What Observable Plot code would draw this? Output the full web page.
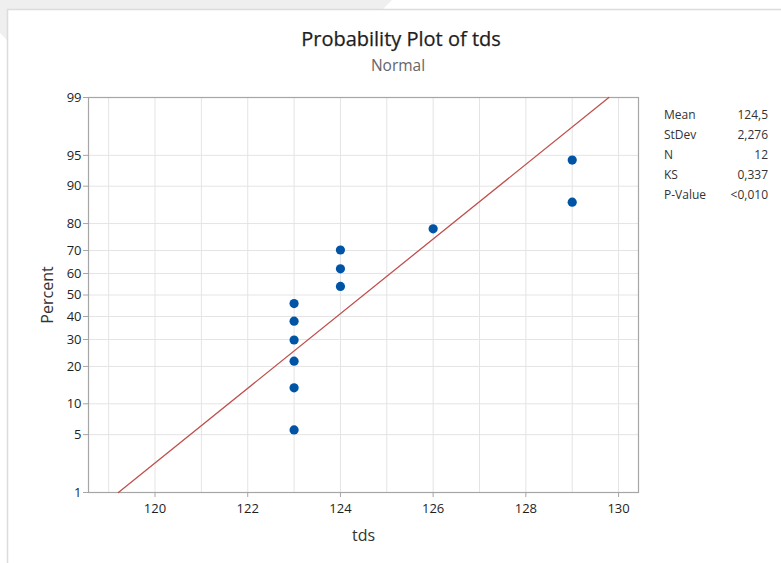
<!DOCTYPE html>
<html>
<head>
<meta charset="utf-8">
<script src="https://cdn.jsdelivr.net/npm/d3@7"></script>
<script src="https://cdn.jsdelivr.net/npm/@observablehq/plot@0.6"></script>
<style>
  html, body { margin: 0; padding: 0; background: #fff; }
  #page { position: relative; width: 781px; height: 563px; overflow: hidden; font-family: "Open Sans", "Noto Sans", sans-serif; }
  #bg { position: absolute; left: 0; top: 0; width: 781px; height: 563px; }
  #header { position: absolute; left: 0; top: 0; width: 781px; height: 80px; text-align: center; }
  #title { position: absolute; left: 0; width: 802px; top: 25px; font-size: 20px; color: #1e1e1e; font-weight: 500; -webkit-text-stroke: 0.25px #1e1e1e; }
  #subtitle { position: absolute; left: 0; width: 796px; top: 54px; font-size: 15.5px; color: #666; }
  #chart { position: absolute; left: 0; top: 80px; }
  #stats { position: absolute; left: 664px; top: 106px; width: 104px; font-size: 12px; color: #333; }
  #stats .row { display: flex; justify-content: space-between; height: 20px; line-height: 18px; }
</style>
</head>
<body>
<div id="page">
  <svg id="bg" width="781" height="563">
    <polygon points="0,0 392,0 383,9 7,9 7,40 0,33" fill="#efefef"></polygon>
    <line x1="7.5" y1="9" x2="7.5" y2="563" stroke="#dcdcdc" stroke-width="1.5"></line>
    <line x1="7" y1="9.5" x2="781" y2="9.5" stroke="#dcdcdc" stroke-width="1.5"></line>
  </svg>
  <div id="header">
    <div id="title">Probability Plot of tds</div>
    <div id="subtitle">Normal</div>
  </div>
  <div id="chart"></div>
  <div id="stats"></div>
</div>
<script>
// ---- data ----
const tdsValues = [123, 123, 123, 123, 123, 123, 124, 124, 124, 126, 129, 129];
const percentValues = [5.6, 13.7, 21.8, 29.8, 37.9, 46.0, 54.0, 62.1, 70.2, 78.2, 86.3, 94.4];
const fitX = [119.21, 129.79];
const fitPercent = [1, 99];
const yTickPercents = [1, 5, 10, 20, 30, 40, 50, 60, 70, 80, 90, 95, 99];
const xTickValues = [120, 122, 124, 126, 128, 130];
const xGridValues = [119, 120, 121, 122, 123, 124, 125, 126, 127, 128, 129, 130];
const statLabels = ["Mean", "StDev", "N", "KS", "P-Value"];
const statValues = ["124,5", "2,276", "12", "0,337", "<0,010"];

// inverse standard normal CDF (Acklam)
function probit(p) {
  const a = [-3.969683028665376e+01, 2.209460984245205e+02, -2.759285104469687e+02, 1.383577518672690e+02, -3.066479806614716e+01, 2.506628277459239e+00];
  const b = [-5.447609879822406e+01, 1.615858368580409e+02, -1.556989798598866e+02, 6.680131188771972e+01, -1.328068155288572e+01];
  const c = [-7.784894002430293e-03, -3.223964580411365e-01, -2.400758277161838e+00, -2.549732539343734e+00, 4.374664141464968e+00, 2.938163982698783e+00];
  const d = [7.784695709041462e-03, 3.224671290700398e-01, 2.445134137142996e+00, 3.754408661907416e+00];
  const pl = 0.02425, ph = 1 - pl;
  let q, r;
  if (p < pl) {
    q = Math.sqrt(-2 * Math.log(p));
    return (((((c[0]*q+c[1])*q+c[2])*q+c[3])*q+c[4])*q+c[5]) / ((((d[0]*q+d[1])*q+d[2])*q+d[3])*q+1);
  } else if (p <= ph) {
    q = p - 0.5; r = q*q;
    return (((((a[0]*r+a[1])*r+a[2])*r+a[3])*r+a[4])*r+a[5])*q / (((((b[0]*r+b[1])*r+b[2])*r+b[3])*r+b[4])*r+1);
  } else {
    q = Math.sqrt(-2 * Math.log(1 - p));
    return -(((((c[0]*q+c[1])*q+c[2])*q+c[3])*q+c[4])*q+c[5]) / ((((d[0]*q+d[1])*q+d[2])*q+d[3])*q+1);
  }
}
const z = (pct) => probit(pct / 100);

const points = tdsValues.map((x, i) => ({x, p: percentValues[i]}));
const fitLine = fitX.map((x, i) => ({x, p: fitPercent[i]}));
const yTickZ = yTickPercents.map(z);
const zLabel = new Map(yTickZ.map((v, i) => [v, String(yTickPercents[i])]));

const chart = Plot.plot({
  width: 781,
  height: 483,
  marginLeft: 88,
  marginRight: 143,
  marginTop: 17,
  marginBottom: 71,
  style: {fontFamily: '"Open Sans", "Noto Sans", sans-serif', fontSize: "13px", color: "#262626", background: "transparent"},
  x: {domain: [118.565, 130.43]},
  y: {domain: [z(1), z(99)]},
  marks: [
    Plot.gridX(xGridValues, {stroke: "#e4e4e4", strokeOpacity: 1, strokeWidth: 1}),
    Plot.gridY(yTickZ, {stroke: "#e4e4e4", strokeOpacity: 1, strokeWidth: 1}),
    Plot.frame({stroke: "#a6a6a6", strokeWidth: 1.2}),
    Plot.axisX(xTickValues, {tickSize: 5, tickPadding: 6, stroke: "#a6a6a6", fill: "#1e1e1e", label: null, tickFormat: d => String(d)}),
    Plot.axisY(yTickZ, {tickSize: 5, tickPadding: 2, stroke: "#a6a6a6", fill: "#1e1e1e", tickFormat: v => zLabel.get(v), label: null}),
    Plot.line(fitLine, {x: "x", y: d => z(d.p), stroke: "#c0504d", strokeWidth: 1.3}),
    Plot.dot(points, {x: "x", y: d => z(d.p), r: 4.6, fill: "#0054a6", stroke: "none"}),
    Plot.text(["Percent"], {frameAnchor: "left", dx: -41, rotate: -90, text: d => d, fontSize: 16, fill: "#333", textAnchor: "middle"}),
    Plot.text(["tds"], {frameAnchor: "bottom", dy: 48, text: d => d, fontSize: 16, fill: "#333", textAnchor: "middle"})
  ]
});
document.getElementById("chart").appendChild(chart);

// enlarge tick labels: every text except the two axis titles
chart.querySelectorAll("text").forEach(t => {
  const s = t.textContent;
  if (s !== "Percent" && s !== "tds") t.style.fontSize = "13px";
});

const stats = document.getElementById("stats");
statLabels.forEach((lab, i) => {
  const row = document.createElement("div");
  row.className = "row";
  row.innerHTML = `<span>${lab}</span><span>${statValues[i]}</span>`;
  stats.appendChild(row);
});
</script>
</body>
</html>
